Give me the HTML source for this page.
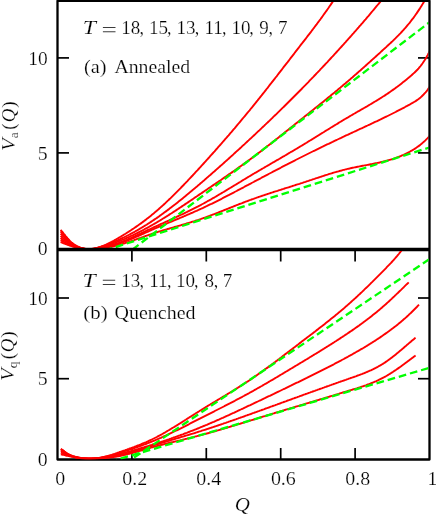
<!DOCTYPE html>
<html><head><meta charset="utf-8"><title>V(Q)</title>
<style>html,body{margin:0;padding:0;background:#fff}svg{display:block}text{font-family:"Liberation Serif",serif;fill:#000;stroke:#fff;stroke-width:0.2px}</style></head><body>
<svg width="436" height="515" viewBox="0 0 436 515">
<rect width="436" height="515" fill="#fff"/>
<defs>
<clipPath id="ct"><rect x="58.5" y="1.9" width="370.0" height="247.6"/></clipPath>
<clipPath id="cb"><rect x="58.5" y="250.9" width="370.0" height="208.4"/></clipPath>
</defs>
<g stroke="#000" stroke-width="1.7" fill="none">
<path d="M57.5,152.9 h11.5"/>
<path d="M429.5,152.9 h-11.5"/>
<path d="M57.5,57.9 h11.5"/>
<path d="M429.5,57.9 h-11.5"/>
</g>
<g fill="none" stroke="#f00" stroke-width="1.9" stroke-linejoin="round" clip-path="url(#ct)">
<path d="M60.6,229.8 L61.6,231.0 L62.6,232.2 L63.6,233.5 L64.6,234.7 L65.6,236.0 L66.6,237.2 L67.6,238.4 L68.6,239.5 L69.6,240.6 L70.6,241.6 L71.6,242.5 L72.6,243.3 L73.6,244.1 L74.6,244.8 L75.6,245.4 L76.6,246.0 L77.6,246.5 L78.6,246.9 L79.6,247.3 L80.6,247.7 L81.6,248.0 L82.6,248.3 L83.6,248.5 L84.6,248.7 L85.6,248.9 L86.6,249.0 L87.6,249.1 L88.6,249.1 L89.6,249.1 L90.6,249.1 L91.6,249.0 L92.6,248.9 L93.6,248.7 L94.6,248.5 L95.6,248.3 L96.6,248.1 L97.6,247.8 L98.6,247.5 L99.6,247.2 L100.6,246.8 L101.6,246.5 L102.6,246.1 L103.6,245.7 L104.6,245.3 L105.6,244.8 L106.6,244.4 L107.6,243.9 L108.6,243.4 L109.6,242.9 L110.6,242.4 L111.6,241.9 L112.6,241.3 L113.6,240.8 L114.6,240.2 L115.6,239.7 L116.6,239.1 L117.6,238.5 L118.6,237.9 L119.6,237.3 L120.6,236.7 L121.6,236.1 L122.6,235.5 L123.6,234.9 L124.6,234.3 L125.6,233.7 L126.6,233.0 L127.6,232.4 L128.6,231.8 L129.6,231.1 L130.6,230.5 L131.6,229.8 L132.6,229.1 L133.6,228.5 L134.6,227.8 L135.6,227.1 L136.6,226.4 L137.6,225.7 L138.6,225.0 L139.6,224.3 L140.6,223.6 L141.6,222.9 L142.6,222.1 L143.6,221.4 L144.6,220.6 L145.6,219.9 L146.6,219.1 L147.6,218.3 L148.6,217.6 L149.6,216.8 L150.6,216.0 L151.6,215.1 L152.6,214.3 L153.6,213.5 L154.6,212.6 L155.6,211.8 L156.6,210.9 L157.6,210.1 L158.6,209.2 L159.6,208.3 L160.6,207.4 L161.6,206.5 L162.6,205.6 L163.6,204.7 L164.6,203.8 L165.6,202.8 L166.6,201.9 L167.6,200.9 L168.6,200.0 L169.6,199.0 L170.6,198.1 L171.6,197.1 L172.6,196.1 L173.6,195.1 L174.6,194.1 L175.6,193.1 L176.6,192.1 L177.6,191.1 L178.6,190.1 L179.6,189.1 L180.6,188.1 L181.6,187.0 L182.6,186.0 L183.6,185.0 L184.6,183.9 L185.6,182.9 L186.6,181.8 L187.6,180.8 L188.6,179.7 L189.6,178.7 L190.6,177.6 L191.6,176.5 L192.6,175.5 L193.6,174.4 L194.6,173.3 L195.6,172.2 L196.6,171.1 L197.6,170.1 L198.6,169.0 L199.6,167.9 L200.6,166.8 L201.6,165.7 L202.6,164.6 L203.6,163.5 L204.6,162.4 L205.6,161.3 L206.6,160.2 L207.6,159.1 L208.6,158.0 L209.6,156.9 L210.6,155.7 L211.6,154.6 L212.6,153.5 L213.6,152.4 L214.6,151.3 L215.6,150.1 L216.6,149.0 L217.6,147.9 L218.6,146.7 L219.6,145.6 L220.6,144.5 L221.6,143.3 L222.6,142.2 L223.6,141.0 L224.6,139.9 L225.6,138.7 L226.6,137.6 L227.6,136.4 L228.6,135.3 L229.6,134.1 L230.6,132.9 L231.6,131.8 L232.6,130.6 L233.6,129.4 L234.6,128.3 L235.6,127.1 L236.6,125.9 L237.6,124.7 L238.6,123.5 L239.6,122.3 L240.6,121.1 L241.6,119.9 L242.6,118.7 L243.6,117.5 L244.6,116.3 L245.6,115.1 L246.6,113.9 L247.6,112.7 L248.6,111.5 L249.6,110.3 L250.6,109.0 L251.6,107.8 L252.6,106.6 L253.6,105.3 L254.6,104.1 L255.6,102.9 L256.6,101.6 L257.6,100.4 L258.6,99.1 L259.6,97.9 L260.6,96.6 L261.6,95.4 L262.6,94.1 L263.6,92.8 L264.6,91.6 L265.6,90.3 L266.6,89.0 L267.6,87.8 L268.6,86.5 L269.6,85.2 L270.6,83.9 L271.6,82.7 L272.6,81.4 L273.6,80.1 L274.6,78.8 L275.6,77.5 L276.6,76.3 L277.6,75.0 L278.6,73.7 L279.6,72.4 L280.6,71.1 L281.6,69.8 L282.6,68.5 L283.6,67.2 L284.6,65.9 L285.6,64.6 L286.6,63.3 L287.6,62.1 L288.6,60.8 L289.6,59.5 L290.6,58.2 L291.6,56.9 L292.6,55.6 L293.6,54.3 L294.6,53.0 L295.6,51.7 L296.6,50.4 L297.6,49.1 L298.6,47.8 L299.6,46.5 L300.6,45.2 L301.6,43.9 L302.6,42.7 L303.6,41.4 L304.6,40.1 L305.6,38.8 L306.6,37.5 L307.6,36.2 L308.6,34.9 L309.6,33.6 L310.6,32.3 L311.6,31.0 L312.6,29.7 L313.6,28.3 L314.6,27.0 L315.6,25.7 L316.6,24.4 L317.6,23.0 L318.6,21.7 L319.6,20.3 L320.6,19.0 L321.6,17.6 L322.6,16.2 L323.6,14.8 L324.6,13.4 L325.6,12.0 L326.6,10.6 L327.6,9.2 L328.6,7.8 L329.6,6.3 L330.6,4.9 L331.6,3.4 L332.6,1.9 L333.6,0.4 L334.6,-1.1 L335.6,-2.6 L336.0,-3.2"/>
<path d="M60.6,231.4 L61.6,232.6 L62.6,233.8 L63.6,234.9 L64.6,236.0 L65.6,237.0 L66.6,238.1 L67.6,239.2 L68.6,240.2 L69.6,241.2 L70.6,242.2 L71.6,243.0 L72.6,243.8 L73.6,244.5 L74.6,245.2 L75.6,245.7 L76.6,246.2 L77.6,246.7 L78.6,247.1 L79.6,247.5 L80.6,247.8 L81.6,248.1 L82.6,248.4 L83.6,248.6 L84.6,248.8 L85.6,249.0 L86.6,249.1 L87.6,249.1 L88.6,249.2 L89.6,249.1 L90.6,249.1 L91.6,249.0 L92.6,248.8 L93.6,248.6 L94.6,248.4 L95.6,248.2 L96.6,247.9 L97.6,247.7 L98.6,247.4 L99.6,247.1 L100.6,246.8 L101.6,246.5 L102.6,246.1 L103.6,245.8 L104.6,245.5 L105.6,245.1 L106.6,244.7 L107.6,244.4 L108.6,244.0 L109.6,243.6 L110.6,243.2 L111.6,242.8 L112.6,242.4 L113.6,242.0 L114.6,241.6 L115.6,241.2 L116.6,240.7 L117.6,240.3 L118.6,239.8 L119.6,239.4 L120.6,238.9 L121.6,238.4 L122.6,238.0 L123.6,237.5 L124.6,237.0 L125.6,236.5 L126.6,236.0 L127.6,235.5 L128.6,235.0 L129.6,234.5 L130.6,233.9 L131.6,233.4 L132.6,232.9 L133.6,232.3 L134.6,231.8 L135.6,231.2 L136.6,230.7 L137.6,230.1 L138.6,229.5 L139.6,228.9 L140.6,228.3 L141.6,227.7 L142.6,227.1 L143.6,226.5 L144.6,225.9 L145.6,225.3 L146.6,224.7 L147.6,224.0 L148.6,223.4 L149.6,222.8 L150.6,222.1 L151.6,221.4 L152.6,220.8 L153.6,220.1 L154.6,219.4 L155.6,218.7 L156.6,218.1 L157.6,217.4 L158.6,216.7 L159.6,215.9 L160.6,215.2 L161.6,214.5 L162.6,213.8 L163.6,213.1 L164.6,212.3 L165.6,211.6 L166.6,210.9 L167.6,210.1 L168.6,209.4 L169.6,208.6 L170.6,207.8 L171.6,207.1 L172.6,206.3 L173.6,205.5 L174.6,204.7 L175.6,204.0 L176.6,203.2 L177.6,202.4 L178.6,201.6 L179.6,200.8 L180.6,200.0 L181.6,199.2 L182.6,198.4 L183.6,197.6 L184.6,196.7 L185.6,195.9 L186.6,195.1 L187.6,194.3 L188.6,193.4 L189.6,192.6 L190.6,191.8 L191.6,190.9 L192.6,190.1 L193.6,189.3 L194.6,188.4 L195.6,187.6 L196.6,186.7 L197.6,185.9 L198.6,185.0 L199.6,184.2 L200.6,183.3 L201.6,182.5 L202.6,181.6 L203.6,180.7 L204.6,179.9 L205.6,179.0 L206.6,178.1 L207.6,177.3 L208.6,176.4 L209.6,175.5 L210.6,174.7 L211.6,173.8 L212.6,172.9 L213.6,172.0 L214.6,171.2 L215.6,170.3 L216.6,169.4 L217.6,168.5 L218.6,167.6 L219.6,166.7 L220.6,165.8 L221.6,165.0 L222.6,164.1 L223.6,163.2 L224.6,162.3 L225.6,161.4 L226.6,160.5 L227.6,159.6 L228.6,158.7 L229.6,157.8 L230.6,156.9 L231.6,156.0 L232.6,155.1 L233.6,154.2 L234.6,153.2 L235.6,152.3 L236.6,151.4 L237.6,150.5 L238.6,149.6 L239.6,148.7 L240.6,147.8 L241.6,146.8 L242.6,145.9 L243.6,145.0 L244.6,144.1 L245.6,143.1 L246.6,142.2 L247.6,141.3 L248.6,140.4 L249.6,139.4 L250.6,138.5 L251.6,137.6 L252.6,136.6 L253.6,135.7 L254.6,134.8 L255.6,133.8 L256.6,132.9 L257.6,131.9 L258.6,131.0 L259.6,130.1 L260.6,129.1 L261.6,128.2 L262.6,127.2 L263.6,126.3 L264.6,125.3 L265.6,124.4 L266.6,123.4 L267.6,122.5 L268.6,121.5 L269.6,120.6 L270.6,119.6 L271.6,118.6 L272.6,117.7 L273.6,116.7 L274.6,115.7 L275.6,114.8 L276.6,113.8 L277.6,112.8 L278.6,111.9 L279.6,110.9 L280.6,109.9 L281.6,108.9 L282.6,107.9 L283.6,107.0 L284.6,106.0 L285.6,105.0 L286.6,104.0 L287.6,103.0 L288.6,102.0 L289.6,101.0 L290.6,100.0 L291.6,99.0 L292.6,98.0 L293.6,97.0 L294.6,96.0 L295.6,95.0 L296.6,94.0 L297.6,93.0 L298.6,92.0 L299.6,91.0 L300.6,90.0 L301.6,89.0 L302.6,87.9 L303.6,86.9 L304.6,85.9 L305.6,84.9 L306.6,83.8 L307.6,82.8 L308.6,81.8 L309.6,80.7 L310.6,79.7 L311.6,78.7 L312.6,77.6 L313.6,76.6 L314.6,75.5 L315.6,74.5 L316.6,73.4 L317.6,72.4 L318.6,71.3 L319.6,70.3 L320.6,69.2 L321.6,68.2 L322.6,67.1 L323.6,66.0 L324.6,65.0 L325.6,63.9 L326.6,62.8 L327.6,61.8 L328.6,60.7 L329.6,59.6 L330.6,58.5 L331.6,57.4 L332.6,56.4 L333.6,55.3 L334.6,54.2 L335.6,53.1 L336.6,52.0 L337.6,50.9 L338.6,49.8 L339.6,48.7 L340.6,47.6 L341.6,46.5 L342.6,45.4 L343.6,44.3 L344.6,43.2 L345.6,42.1 L346.6,40.9 L347.6,39.8 L348.6,38.7 L349.6,37.6 L350.6,36.5 L351.6,35.3 L352.6,34.2 L353.6,33.1 L354.6,31.9 L355.6,30.8 L356.6,29.7 L357.6,28.5 L358.6,27.4 L359.6,26.2 L360.6,25.1 L361.6,23.9 L362.6,22.8 L363.6,21.6 L364.6,20.4 L365.6,19.3 L366.6,18.1 L367.6,16.9 L368.6,15.8 L369.6,14.6 L370.6,13.4 L371.6,12.2 L372.6,11.0 L373.6,9.8 L374.6,8.6 L375.6,7.4 L376.6,6.2 L377.6,5.0 L378.6,3.8 L379.6,2.6 L380.6,1.4 L381.6,0.2 L382.6,-1.0 L383.6,-2.3 L384.0,-2.8"/>
<path d="M60.6,233.6 L61.6,234.7 L62.6,235.7 L63.6,236.6 L64.6,237.6 L65.6,238.5 L66.6,239.4 L67.6,240.3 L68.6,241.2 L69.6,242.0 L70.6,242.9 L71.6,243.6 L72.6,244.3 L73.6,245.0 L74.6,245.5 L75.6,246.1 L76.6,246.5 L77.6,247.0 L78.6,247.3 L79.6,247.7 L80.6,248.0 L81.6,248.3 L82.6,248.5 L83.6,248.7 L84.6,248.9 L85.6,249.0 L86.6,249.1 L87.6,249.1 L88.6,249.2 L89.6,249.1 L90.6,249.1 L91.6,249.0 L92.6,248.9 L93.6,248.8 L94.6,248.6 L95.6,248.4 L96.6,248.2 L97.6,248.0 L98.6,247.8 L99.6,247.6 L100.6,247.3 L101.6,247.0 L102.6,246.8 L103.6,246.5 L104.6,246.2 L105.6,245.9 L106.6,245.6 L107.6,245.3 L108.6,245.0 L109.6,244.6 L110.6,244.3 L111.6,243.9 L112.6,243.6 L113.6,243.2 L114.6,242.9 L115.6,242.5 L116.6,242.1 L117.6,241.7 L118.6,241.3 L119.6,240.9 L120.6,240.5 L121.6,240.1 L122.6,239.7 L123.6,239.3 L124.6,238.9 L125.6,238.4 L126.6,238.0 L127.6,237.5 L128.6,237.1 L129.6,236.6 L130.6,236.2 L131.6,235.7 L132.6,235.3 L133.6,234.8 L134.6,234.3 L135.6,233.8 L136.6,233.3 L137.6,232.8 L138.6,232.3 L139.6,231.8 L140.6,231.3 L141.6,230.8 L142.6,230.3 L143.6,229.8 L144.6,229.2 L145.6,228.7 L146.6,228.2 L147.6,227.6 L148.6,227.1 L149.6,226.5 L150.6,225.9 L151.6,225.4 L152.6,224.8 L153.6,224.2 L154.6,223.6 L155.6,223.1 L156.6,222.5 L157.6,221.9 L158.6,221.3 L159.6,220.7 L160.6,220.1 L161.6,219.5 L162.6,218.8 L163.6,218.2 L164.6,217.6 L165.6,217.0 L166.6,216.4 L167.6,215.7 L168.6,215.1 L169.6,214.4 L170.6,213.8 L171.6,213.2 L172.6,212.5 L173.6,211.9 L174.6,211.2 L175.6,210.6 L176.6,209.9 L177.6,209.2 L178.6,208.6 L179.6,207.9 L180.6,207.3 L181.6,206.6 L182.6,205.9 L183.6,205.3 L184.6,204.6 L185.6,203.9 L186.6,203.2 L187.6,202.6 L188.6,201.9 L189.6,201.2 L190.6,200.5 L191.6,199.9 L192.6,199.2 L193.6,198.5 L194.6,197.8 L195.6,197.1 L196.6,196.5 L197.6,195.8 L198.6,195.1 L199.6,194.4 L200.6,193.7 L201.6,193.1 L202.6,192.4 L203.6,191.7 L204.6,191.0 L205.6,190.4 L206.6,189.7 L207.6,189.0 L208.6,188.3 L209.6,187.6 L210.6,187.0 L211.6,186.3 L212.6,185.6 L213.6,184.9 L214.6,184.2 L215.6,183.6 L216.6,182.9 L217.6,182.2 L218.6,181.5 L219.6,180.8 L220.6,180.2 L221.6,179.5 L222.6,178.8 L223.6,178.1 L224.6,177.4 L225.6,176.7 L226.6,176.0 L227.6,175.3 L228.6,174.6 L229.6,173.9 L230.6,173.3 L231.6,172.6 L232.6,171.9 L233.6,171.2 L234.6,170.5 L235.6,169.7 L236.6,169.0 L237.6,168.3 L238.6,167.6 L239.6,166.9 L240.6,166.2 L241.6,165.5 L242.6,164.8 L243.6,164.0 L244.6,163.3 L245.6,162.6 L246.6,161.9 L247.6,161.1 L248.6,160.4 L249.6,159.7 L250.6,158.9 L251.6,158.2 L252.6,157.4 L253.6,156.7 L254.6,156.0 L255.6,155.2 L256.6,154.4 L257.6,153.7 L258.6,152.9 L259.6,152.2 L260.6,151.4 L261.6,150.7 L262.6,149.9 L263.6,149.1 L264.6,148.3 L265.6,147.6 L266.6,146.8 L267.6,146.0 L268.6,145.3 L269.6,144.5 L270.6,143.7 L271.6,142.9 L272.6,142.1 L273.6,141.3 L274.6,140.6 L275.6,139.8 L276.6,139.0 L277.6,138.2 L278.6,137.4 L279.6,136.6 L280.6,135.8 L281.6,135.0 L282.6,134.2 L283.6,133.4 L284.6,132.6 L285.6,131.8 L286.6,131.0 L287.6,130.2 L288.6,129.4 L289.6,128.6 L290.6,127.8 L291.6,127.0 L292.6,126.2 L293.6,125.4 L294.6,124.6 L295.6,123.8 L296.6,123.0 L297.6,122.2 L298.6,121.4 L299.6,120.6 L300.6,119.8 L301.6,119.0 L302.6,118.2 L303.6,117.4 L304.6,116.6 L305.6,115.8 L306.6,115.0 L307.6,114.2 L308.6,113.4 L309.6,112.6 L310.6,111.8 L311.6,111.0 L312.6,110.2 L313.6,109.4 L314.6,108.6 L315.6,107.8 L316.6,107.0 L317.6,106.2 L318.6,105.4 L319.6,104.6 L320.6,103.8 L321.6,103.0 L322.6,102.2 L323.6,101.4 L324.6,100.6 L325.6,99.7 L326.6,98.9 L327.6,98.1 L328.6,97.3 L329.6,96.5 L330.6,95.7 L331.6,94.8 L332.6,94.0 L333.6,93.2 L334.6,92.4 L335.6,91.5 L336.6,90.7 L337.6,89.9 L338.6,89.0 L339.6,88.2 L340.6,87.4 L341.6,86.5 L342.6,85.7 L343.6,84.8 L344.6,84.0 L345.6,83.2 L346.6,82.3 L347.6,81.5 L348.6,80.6 L349.6,79.7 L350.6,78.9 L351.6,78.0 L352.6,77.2 L353.6,76.3 L354.6,75.4 L355.6,74.5 L356.6,73.7 L357.6,72.8 L358.6,71.9 L359.6,71.0 L360.6,70.2 L361.6,69.3 L362.6,68.4 L363.6,67.5 L364.6,66.6 L365.6,65.7 L366.6,64.8 L367.6,63.9 L368.6,63.0 L369.6,62.1 L370.6,61.2 L371.6,60.3 L372.6,59.4 L373.6,58.5 L374.6,57.6 L375.6,56.7 L376.6,55.8 L377.6,54.9 L378.6,54.0 L379.6,53.1 L380.6,52.2 L381.6,51.2 L382.6,50.3 L383.6,49.4 L384.6,48.5 L385.6,47.6 L386.6,46.7 L387.6,45.7 L388.6,44.8 L389.6,43.9 L390.6,43.0 L391.6,42.0 L392.6,41.1 L393.6,40.1 L394.6,39.1 L395.6,38.2 L396.6,37.2 L397.6,36.2 L398.6,35.2 L399.6,34.1 L400.6,33.1 L401.6,32.0 L402.6,30.9 L403.6,29.8 L404.6,28.7 L405.6,27.6 L406.6,26.4 L407.6,25.2 L408.6,24.0 L409.6,22.8 L410.6,21.5 L411.6,20.2 L412.6,18.9 L413.6,17.6 L414.6,16.2 L415.6,14.8 L416.6,13.4 L417.6,11.9 L418.6,10.4 L419.6,8.9 L420.6,7.3 L421.6,5.7 L422.6,4.1 L423.6,2.4 L424.6,0.7 L425.6,-1.0 L426.5,-2.6"/>
<path d="M60.6,235.8 L61.6,236.8 L62.6,237.7 L63.6,238.4 L64.6,239.2 L65.6,239.9 L66.6,240.6 L67.6,241.4 L68.6,242.1 L69.6,242.9 L70.6,243.6 L71.6,244.3 L72.6,244.9 L73.6,245.4 L74.6,245.9 L75.6,246.4 L76.6,246.8 L77.6,247.2 L78.6,247.5 L79.6,247.8 L80.6,248.1 L81.6,248.3 L82.6,248.5 L83.6,248.7 L84.6,248.9 L85.6,249.0 L86.6,249.1 L87.6,249.1 L88.6,249.2 L89.6,249.2 L90.6,249.1 L91.6,249.1 L92.6,249.0 L93.6,248.9 L94.6,248.8 L95.6,248.6 L96.6,248.5 L97.6,248.3 L98.6,248.1 L99.6,247.9 L100.6,247.7 L101.6,247.5 L102.6,247.3 L103.6,247.1 L104.6,246.8 L105.6,246.6 L106.6,246.4 L107.6,246.1 L108.6,245.8 L109.6,245.6 L110.6,245.3 L111.6,245.0 L112.6,244.7 L113.6,244.4 L114.6,244.1 L115.6,243.8 L116.6,243.5 L117.6,243.1 L118.6,242.8 L119.6,242.4 L120.6,242.1 L121.6,241.7 L122.6,241.3 L123.6,241.0 L124.6,240.6 L125.6,240.2 L126.6,239.8 L127.6,239.3 L128.6,238.9 L129.6,238.5 L130.6,238.1 L131.6,237.6 L132.6,237.2 L133.6,236.7 L134.6,236.3 L135.6,235.8 L136.6,235.4 L137.6,234.9 L138.6,234.4 L139.6,234.0 L140.6,233.5 L141.6,233.0 L142.6,232.6 L143.6,232.1 L144.6,231.6 L145.6,231.2 L146.6,230.7 L147.6,230.2 L148.6,229.7 L149.6,229.3 L150.6,228.8 L151.6,228.3 L152.6,227.9 L153.6,227.4 L154.6,226.9 L155.6,226.5 L156.6,226.0 L157.6,225.6 L158.6,225.1 L159.6,224.7 L160.6,224.2 L161.6,223.7 L162.6,223.3 L163.6,222.8 L164.6,222.4 L165.6,221.9 L166.6,221.5 L167.6,221.0 L168.6,220.6 L169.6,220.1 L170.6,219.6 L171.6,219.2 L172.6,218.7 L173.6,218.3 L174.6,217.8 L175.6,217.3 L176.6,216.9 L177.6,216.4 L178.6,216.0 L179.6,215.5 L180.6,215.0 L181.6,214.5 L182.6,214.1 L183.6,213.6 L184.6,213.1 L185.6,212.6 L186.6,212.2 L187.6,211.7 L188.6,211.2 L189.6,210.7 L190.6,210.2 L191.6,209.7 L192.6,209.2 L193.6,208.7 L194.6,208.2 L195.6,207.7 L196.6,207.2 L197.6,206.7 L198.6,206.1 L199.6,205.6 L200.6,205.1 L201.6,204.5 L202.6,204.0 L203.6,203.5 L204.6,202.9 L205.6,202.4 L206.6,201.8 L207.6,201.2 L208.6,200.7 L209.6,200.1 L210.6,199.6 L211.6,199.0 L212.6,198.4 L213.6,197.8 L214.6,197.3 L215.6,196.7 L216.6,196.1 L217.6,195.5 L218.6,194.9 L219.6,194.3 L220.6,193.7 L221.6,193.1 L222.6,192.5 L223.6,192.0 L224.6,191.4 L225.6,190.8 L226.6,190.1 L227.6,189.5 L228.6,188.9 L229.6,188.3 L230.6,187.7 L231.6,187.1 L232.6,186.5 L233.6,185.9 L234.6,185.3 L235.6,184.7 L236.6,184.1 L237.6,183.5 L238.6,182.9 L239.6,182.3 L240.6,181.7 L241.6,181.0 L242.6,180.4 L243.6,179.8 L244.6,179.2 L245.6,178.6 L246.6,178.0 L247.6,177.4 L248.6,176.8 L249.6,176.2 L250.6,175.6 L251.6,175.0 L252.6,174.4 L253.6,173.8 L254.6,173.2 L255.6,172.7 L256.6,172.1 L257.6,171.5 L258.6,170.9 L259.6,170.3 L260.6,169.7 L261.6,169.1 L262.6,168.5 L263.6,168.0 L264.6,167.4 L265.6,166.8 L266.6,166.2 L267.6,165.6 L268.6,165.1 L269.6,164.5 L270.6,163.9 L271.6,163.3 L272.6,162.7 L273.6,162.2 L274.6,161.6 L275.6,161.0 L276.6,160.4 L277.6,159.8 L278.6,159.3 L279.6,158.7 L280.6,158.1 L281.6,157.5 L282.6,156.9 L283.6,156.3 L284.6,155.8 L285.6,155.2 L286.6,154.6 L287.6,154.0 L288.6,153.4 L289.6,152.8 L290.6,152.2 L291.6,151.7 L292.6,151.1 L293.6,150.5 L294.6,149.9 L295.6,149.3 L296.6,148.7 L297.6,148.1 L298.6,147.5 L299.6,146.9 L300.6,146.3 L301.6,145.7 L302.6,145.1 L303.6,144.5 L304.6,143.9 L305.6,143.3 L306.6,142.7 L307.6,142.0 L308.6,141.4 L309.6,140.8 L310.6,140.2 L311.6,139.6 L312.6,139.0 L313.6,138.4 L314.6,137.7 L315.6,137.1 L316.6,136.5 L317.6,135.9 L318.6,135.3 L319.6,134.6 L320.6,134.0 L321.6,133.4 L322.6,132.8 L323.6,132.2 L324.6,131.5 L325.6,130.9 L326.6,130.3 L327.6,129.7 L328.6,129.1 L329.6,128.5 L330.6,127.8 L331.6,127.2 L332.6,126.6 L333.6,126.0 L334.6,125.4 L335.6,124.8 L336.6,124.2 L337.6,123.6 L338.6,122.9 L339.6,122.3 L340.6,121.7 L341.6,121.1 L342.6,120.5 L343.6,119.9 L344.6,119.3 L345.6,118.7 L346.6,118.1 L347.6,117.6 L348.6,117.0 L349.6,116.4 L350.6,115.8 L351.6,115.2 L352.6,114.6 L353.6,114.0 L354.6,113.5 L355.6,112.9 L356.6,112.3 L357.6,111.7 L358.6,111.2 L359.6,110.6 L360.6,110.0 L361.6,109.4 L362.6,108.9 L363.6,108.3 L364.6,107.7 L365.6,107.1 L366.6,106.6 L367.6,106.0 L368.6,105.4 L369.6,104.8 L370.6,104.2 L371.6,103.6 L372.6,103.0 L373.6,102.4 L374.6,101.8 L375.6,101.2 L376.6,100.6 L377.6,100.0 L378.6,99.4 L379.6,98.7 L380.6,98.1 L381.6,97.5 L382.6,96.8 L383.6,96.2 L384.6,95.6 L385.6,94.9 L386.6,94.2 L387.6,93.6 L388.6,92.9 L389.6,92.2 L390.6,91.5 L391.6,90.8 L392.6,90.1 L393.6,89.4 L394.6,88.7 L395.6,87.9 L396.6,87.2 L397.6,86.5 L398.6,85.7 L399.6,85.0 L400.6,84.2 L401.6,83.4 L402.6,82.6 L403.6,81.8 L404.6,81.1 L405.6,80.2 L406.6,79.4 L407.6,78.6 L408.6,77.8 L409.6,76.9 L410.6,76.1 L411.6,75.2 L412.6,74.3 L413.6,73.4 L414.6,72.5 L415.6,71.5 L416.6,70.5 L417.6,69.5 L418.6,68.4 L419.6,67.2 L420.6,66.0 L421.6,64.7 L422.6,63.3 L423.6,61.8 L424.6,60.3 L425.6,58.7 L426.6,56.9 L427.6,55.1 L428.6,53.2 L429.6,51.1 L430.0,50.3"/>
<path d="M60.6,238.0 L61.6,238.9 L62.6,239.6 L63.6,240.2 L64.6,240.8 L65.6,241.3 L66.6,241.9 L67.6,242.5 L68.6,243.1 L69.6,243.7 L70.6,244.3 L71.6,244.8 L72.6,245.4 L73.6,245.9 L74.6,246.3 L75.6,246.7 L76.6,247.1 L77.6,247.4 L78.6,247.7 L79.6,248.0 L80.6,248.3 L81.6,248.5 L82.6,248.6 L83.6,248.8 L84.6,248.9 L85.6,249.0 L86.6,249.1 L87.6,249.1 L88.6,249.2 L89.6,249.2 L90.6,249.1 L91.6,249.1 L92.6,249.0 L93.6,249.0 L94.6,248.9 L95.6,248.8 L96.6,248.6 L97.6,248.5 L98.6,248.4 L99.6,248.2 L100.6,248.0 L101.6,247.9 L102.6,247.7 L103.6,247.5 L104.6,247.3 L105.6,247.1 L106.6,246.9 L107.6,246.7 L108.6,246.5 L109.6,246.2 L110.6,246.0 L111.6,245.7 L112.6,245.5 L113.6,245.2 L114.6,244.9 L115.6,244.6 L116.6,244.3 L117.6,244.0 L118.6,243.7 L119.6,243.4 L120.6,243.1 L121.6,242.7 L122.6,242.4 L123.6,242.0 L124.6,241.6 L125.6,241.3 L126.6,240.9 L127.6,240.5 L128.6,240.1 L129.6,239.7 L130.6,239.3 L131.6,238.9 L132.6,238.4 L133.6,238.0 L134.6,237.6 L135.6,237.1 L136.6,236.7 L137.6,236.3 L138.6,235.8 L139.6,235.4 L140.6,234.9 L141.6,234.5 L142.6,234.0 L143.6,233.6 L144.6,233.1 L145.6,232.7 L146.6,232.2 L147.6,231.8 L148.6,231.3 L149.6,230.9 L150.6,230.4 L151.6,230.0 L152.6,229.5 L153.6,229.1 L154.6,228.7 L155.6,228.2 L156.6,227.8 L157.6,227.4 L158.6,227.0 L159.6,226.5 L160.6,226.1 L161.6,225.7 L162.6,225.3 L163.6,224.8 L164.6,224.4 L165.6,224.0 L166.6,223.6 L167.6,223.2 L168.6,222.7 L169.6,222.3 L170.6,221.9 L171.6,221.5 L172.6,221.1 L173.6,220.7 L174.6,220.2 L175.6,219.8 L176.6,219.4 L177.6,219.0 L178.6,218.6 L179.6,218.1 L180.6,217.7 L181.6,217.3 L182.6,216.9 L183.6,216.5 L184.6,216.0 L185.6,215.6 L186.6,215.2 L187.6,214.7 L188.6,214.3 L189.6,213.9 L190.6,213.4 L191.6,213.0 L192.6,212.6 L193.6,212.1 L194.6,211.7 L195.6,211.2 L196.6,210.8 L197.6,210.3 L198.6,209.9 L199.6,209.4 L200.6,209.0 L201.6,208.5 L202.6,208.1 L203.6,207.6 L204.6,207.1 L205.6,206.6 L206.6,206.2 L207.6,205.7 L208.6,205.2 L209.6,204.7 L210.6,204.2 L211.6,203.8 L212.6,203.3 L213.6,202.8 L214.6,202.3 L215.6,201.8 L216.6,201.3 L217.6,200.8 L218.6,200.3 L219.6,199.8 L220.6,199.3 L221.6,198.8 L222.6,198.2 L223.6,197.7 L224.6,197.2 L225.6,196.7 L226.6,196.2 L227.6,195.7 L228.6,195.2 L229.6,194.6 L230.6,194.1 L231.6,193.6 L232.6,193.1 L233.6,192.6 L234.6,192.0 L235.6,191.5 L236.6,191.0 L237.6,190.4 L238.6,189.9 L239.6,189.4 L240.6,188.9 L241.6,188.3 L242.6,187.8 L243.6,187.3 L244.6,186.7 L245.6,186.2 L246.6,185.7 L247.6,185.2 L248.6,184.6 L249.6,184.1 L250.6,183.6 L251.6,183.0 L252.6,182.5 L253.6,182.0 L254.6,181.4 L255.6,180.9 L256.6,180.4 L257.6,179.8 L258.6,179.3 L259.6,178.8 L260.6,178.3 L261.6,177.7 L262.6,177.2 L263.6,176.7 L264.6,176.1 L265.6,175.6 L266.6,175.1 L267.6,174.6 L268.6,174.0 L269.6,173.5 L270.6,173.0 L271.6,172.5 L272.6,171.9 L273.6,171.4 L274.6,170.9 L275.6,170.4 L276.6,169.8 L277.6,169.3 L278.6,168.8 L279.6,168.3 L280.6,167.8 L281.6,167.2 L282.6,166.7 L283.6,166.2 L284.6,165.7 L285.6,165.2 L286.6,164.7 L287.6,164.1 L288.6,163.6 L289.6,163.1 L290.6,162.6 L291.6,162.1 L292.6,161.6 L293.6,161.1 L294.6,160.6 L295.6,160.0 L296.6,159.5 L297.6,159.0 L298.6,158.5 L299.6,158.0 L300.6,157.5 L301.6,157.0 L302.6,156.5 L303.6,156.0 L304.6,155.5 L305.6,155.0 L306.6,154.5 L307.6,154.0 L308.6,153.5 L309.6,153.0 L310.6,152.5 L311.6,152.0 L312.6,151.5 L313.6,151.0 L314.6,150.6 L315.6,150.1 L316.6,149.6 L317.6,149.1 L318.6,148.6 L319.6,148.1 L320.6,147.6 L321.6,147.1 L322.6,146.7 L323.6,146.2 L324.6,145.7 L325.6,145.2 L326.6,144.7 L327.6,144.2 L328.6,143.8 L329.6,143.3 L330.6,142.8 L331.6,142.3 L332.6,141.9 L333.6,141.4 L334.6,140.9 L335.6,140.4 L336.6,140.0 L337.6,139.5 L338.6,139.0 L339.6,138.5 L340.6,138.1 L341.6,137.6 L342.6,137.1 L343.6,136.7 L344.6,136.2 L345.6,135.7 L346.6,135.2 L347.6,134.8 L348.6,134.3 L349.6,133.8 L350.6,133.4 L351.6,132.9 L352.6,132.5 L353.6,132.0 L354.6,131.5 L355.6,131.1 L356.6,130.6 L357.6,130.1 L358.6,129.7 L359.6,129.2 L360.6,128.7 L361.6,128.3 L362.6,127.8 L363.6,127.4 L364.6,126.9 L365.6,126.4 L366.6,126.0 L367.6,125.5 L368.6,125.0 L369.6,124.6 L370.6,124.1 L371.6,123.6 L372.6,123.2 L373.6,122.7 L374.6,122.2 L375.6,121.7 L376.6,121.3 L377.6,120.8 L378.6,120.3 L379.6,119.8 L380.6,119.4 L381.6,118.9 L382.6,118.4 L383.6,117.9 L384.6,117.4 L385.6,116.9 L386.6,116.5 L387.6,116.0 L388.6,115.5 L389.6,115.0 L390.6,114.5 L391.6,114.0 L392.6,113.5 L393.6,113.0 L394.6,112.5 L395.6,112.0 L396.6,111.4 L397.6,110.9 L398.6,110.4 L399.6,109.9 L400.6,109.4 L401.6,108.9 L402.6,108.3 L403.6,107.8 L404.6,107.3 L405.6,106.7 L406.6,106.2 L407.6,105.6 L408.6,105.1 L409.6,104.6 L410.6,104.0 L411.6,103.4 L412.6,102.9 L413.6,102.3 L414.6,101.7 L415.6,101.1 L416.6,100.4 L417.6,99.7 L418.6,99.0 L419.6,98.2 L420.6,97.4 L421.6,96.5 L422.6,95.5 L423.6,94.5 L424.6,93.4 L425.6,92.3 L426.6,91.1 L427.6,89.8 L428.6,88.3 L429.6,86.9 L430.0,86.2"/>
<path d="M60.6,240.2 L61.6,240.7 L62.6,241.2 L63.6,241.8 L64.6,242.3 L65.6,242.8 L66.6,243.3 L67.6,243.8 L68.6,244.3 L69.6,244.7 L70.6,245.1 L71.6,245.6 L72.6,246.0 L73.6,246.3 L74.6,246.7 L75.6,247.0 L76.6,247.4 L77.6,247.7 L78.6,247.9 L79.6,248.2 L80.6,248.4 L81.6,248.5 L82.6,248.7 L83.6,248.8 L84.6,248.9 L85.6,249.0 L86.6,249.1 L87.6,249.1 L88.6,249.2 L89.6,249.2 L90.6,249.2 L91.6,249.2 L92.6,249.1 L93.6,249.1 L94.6,249.0 L95.6,249.0 L96.6,248.9 L97.6,248.8 L98.6,248.7 L99.6,248.6 L100.6,248.5 L101.6,248.4 L102.6,248.2 L103.6,248.1 L104.6,248.0 L105.6,247.8 L106.6,247.6 L107.6,247.5 L108.6,247.3 L109.6,247.1 L110.6,246.9 L111.6,246.7 L112.6,246.5 L113.6,246.2 L114.6,246.0 L115.6,245.8 L116.6,245.5 L117.6,245.3 L118.6,245.0 L119.6,244.7 L120.6,244.4 L121.6,244.2 L122.6,243.9 L123.6,243.6 L124.6,243.3 L125.6,242.9 L126.6,242.6 L127.6,242.3 L128.6,242.0 L129.6,241.6 L130.6,241.3 L131.6,241.0 L132.6,240.6 L133.6,240.3 L134.6,239.9 L135.6,239.6 L136.6,239.2 L137.6,238.8 L138.6,238.5 L139.6,238.1 L140.6,237.8 L141.6,237.4 L142.6,237.1 L143.6,236.7 L144.6,236.4 L145.6,236.0 L146.6,235.7 L147.6,235.3 L148.6,235.0 L149.6,234.6 L150.6,234.3 L151.6,234.0 L152.6,233.6 L153.6,233.3 L154.6,233.0 L155.6,232.7 L156.6,232.4 L157.6,232.0 L158.6,231.7 L159.6,231.4 L160.6,231.1 L161.6,230.8 L162.6,230.5 L163.6,230.2 L164.6,229.9 L165.6,229.6 L166.6,229.3 L167.6,229.0 L168.6,228.8 L169.6,228.5 L170.6,228.2 L171.6,227.9 L172.6,227.6 L173.6,227.3 L174.6,227.0 L175.6,226.7 L176.6,226.5 L177.6,226.2 L178.6,225.9 L179.6,225.6 L180.6,225.3 L181.6,225.0 L182.6,224.7 L183.6,224.4 L184.6,224.1 L185.6,223.8 L186.6,223.5 L187.6,223.2 L188.6,222.9 L189.6,222.6 L190.6,222.3 L191.6,222.0 L192.6,221.7 L193.6,221.4 L194.6,221.1 L195.6,220.7 L196.6,220.4 L197.6,220.1 L198.6,219.8 L199.6,219.4 L200.6,219.1 L201.6,218.7 L202.6,218.4 L203.6,218.0 L204.6,217.7 L205.6,217.3 L206.6,217.0 L207.6,216.6 L208.6,216.2 L209.6,215.9 L210.6,215.5 L211.6,215.1 L212.6,214.7 L213.6,214.3 L214.6,214.0 L215.6,213.6 L216.6,213.2 L217.6,212.8 L218.6,212.4 L219.6,212.0 L220.6,211.6 L221.6,211.2 L222.6,210.8 L223.6,210.4 L224.6,210.0 L225.6,209.6 L226.6,209.2 L227.6,208.8 L228.6,208.4 L229.6,208.0 L230.6,207.6 L231.6,207.2 L232.6,206.8 L233.6,206.4 L234.6,206.0 L235.6,205.6 L236.6,205.2 L237.6,204.8 L238.6,204.4 L239.6,204.0 L240.6,203.6 L241.6,203.3 L242.6,202.9 L243.6,202.5 L244.6,202.1 L245.6,201.7 L246.6,201.3 L247.6,201.0 L248.6,200.6 L249.6,200.2 L250.6,199.9 L251.6,199.5 L252.6,199.1 L253.6,198.8 L254.6,198.4 L255.6,198.1 L256.6,197.7 L257.6,197.4 L258.6,197.0 L259.6,196.7 L260.6,196.3 L261.6,196.0 L262.6,195.6 L263.6,195.3 L264.6,195.0 L265.6,194.6 L266.6,194.3 L267.6,194.0 L268.6,193.7 L269.6,193.3 L270.6,193.0 L271.6,192.7 L272.6,192.4 L273.6,192.0 L274.6,191.7 L275.6,191.4 L276.6,191.1 L277.6,190.8 L278.6,190.4 L279.6,190.1 L280.6,189.8 L281.6,189.5 L282.6,189.2 L283.6,188.9 L284.6,188.5 L285.6,188.2 L286.6,187.9 L287.6,187.6 L288.6,187.3 L289.6,187.0 L290.6,186.6 L291.6,186.3 L292.6,186.0 L293.6,185.7 L294.6,185.4 L295.6,185.0 L296.6,184.7 L297.6,184.4 L298.6,184.1 L299.6,183.8 L300.6,183.4 L301.6,183.1 L302.6,182.8 L303.6,182.4 L304.6,182.1 L305.6,181.8 L306.6,181.4 L307.6,181.1 L308.6,180.8 L309.6,180.4 L310.6,180.1 L311.6,179.8 L312.6,179.4 L313.6,179.1 L314.6,178.8 L315.6,178.4 L316.6,178.1 L317.6,177.8 L318.6,177.5 L319.6,177.1 L320.6,176.8 L321.6,176.5 L322.6,176.2 L323.6,175.8 L324.6,175.5 L325.6,175.2 L326.6,174.9 L327.6,174.6 L328.6,174.2 L329.6,173.9 L330.6,173.6 L331.6,173.3 L332.6,173.0 L333.6,172.7 L334.6,172.4 L335.6,172.1 L336.6,171.8 L337.6,171.6 L338.6,171.3 L339.6,171.0 L340.6,170.7 L341.6,170.5 L342.6,170.2 L343.6,169.9 L344.6,169.7 L345.6,169.4 L346.6,169.2 L347.6,168.9 L348.6,168.7 L349.6,168.5 L350.6,168.2 L351.6,168.0 L352.6,167.8 L353.6,167.6 L354.6,167.4 L355.6,167.2 L356.6,167.0 L357.6,166.8 L358.6,166.6 L359.6,166.4 L360.6,166.2 L361.6,166.0 L362.6,165.8 L363.6,165.6 L364.6,165.4 L365.6,165.3 L366.6,165.1 L367.6,164.9 L368.6,164.7 L369.6,164.5 L370.6,164.3 L371.6,164.1 L372.6,163.9 L373.6,163.7 L374.6,163.5 L375.6,163.3 L376.6,163.1 L377.6,162.9 L378.6,162.7 L379.6,162.5 L380.6,162.2 L381.6,162.0 L382.6,161.8 L383.6,161.5 L384.6,161.3 L385.6,161.0 L386.6,160.7 L387.6,160.5 L388.6,160.2 L389.6,159.9 L390.6,159.6 L391.6,159.3 L392.6,159.0 L393.6,158.7 L394.6,158.3 L395.6,158.0 L396.6,157.6 L397.6,157.2 L398.6,156.9 L399.6,156.5 L400.6,156.1 L401.6,155.6 L402.6,155.2 L403.6,154.8 L404.6,154.3 L405.6,153.8 L406.6,153.3 L407.6,152.8 L408.6,152.3 L409.6,151.8 L410.6,151.2 L411.6,150.7 L412.6,150.1 L413.6,149.5 L414.6,148.9 L415.6,148.2 L416.6,147.5 L417.6,146.8 L418.6,146.1 L419.6,145.4 L420.6,144.6 L421.6,143.8 L422.6,142.9 L423.6,142.0 L424.6,141.1 L425.6,140.2 L426.6,139.2 L427.6,138.2 L428.6,137.1 L429.6,136.0 L430.0,135.6"/>
<path d="M60.6,242.0 L61.6,242.4 L62.6,242.9 L63.6,243.3 L64.6,243.7 L65.6,244.1 L66.6,244.4 L67.6,244.8 L68.6,245.2 L69.6,245.5 L70.6,245.9 L71.6,246.2 L72.6,246.5 L73.6,246.8 L74.6,247.1 L75.6,247.3 L76.6,247.6 L77.6,247.8 L78.6,248.0 L79.6,248.2 L80.6,248.4 L81.6,248.6 L82.6,248.8 L83.6,248.9 L84.6,249.0 L85.6,249.1 L86.6,249.2 L87.6,249.2 L88.0,249.2"/>
</g>
<g fill="none" stroke="#0f0" stroke-width="2.3" stroke-dasharray="7.7 3.9" clip-path="url(#ct)">
<path d="M131.5,250.3 L430.0,21.9" stroke-dashoffset="-1.2"/>
<path d="M107.0,249.8 L430.0,147.3" stroke-dashoffset="2.45"/>
</g>
<path d="M57.5,0.9 H429.5 V459.5 H57.5 Z" fill="none" stroke="#000" stroke-width="2.3" stroke-linejoin="round"/>
<path d="M57.5,249.5 H429.5" stroke="#000" stroke-width="3.4" fill="none"/>
<g stroke="#000" stroke-width="1.7" fill="none">
<path d="M131.9,249.5 v12.0"/>
<path d="M131.9,459.5 v-11.5"/>
<path d="M206.3,249.5 v12.0"/>
<path d="M206.3,459.5 v-11.5"/>
<path d="M280.7,249.5 v12.0"/>
<path d="M280.7,459.5 v-11.5"/>
<path d="M355.1,249.5 v12.0"/>
<path d="M355.1,459.5 v-11.5"/>
<path d="M57.5,378.7 h11.5"/>
<path d="M429.5,378.7 h-11.5"/>
<path d="M57.5,298.0 h11.5"/>
<path d="M429.5,298.0 h-11.5"/>
</g>
<g fill="none" stroke="#f00" stroke-width="1.9" stroke-linejoin="round" clip-path="url(#cb)">
<path d="M60.8,448.9 L61.8,449.6 L62.8,450.3 L63.8,451.1 L64.8,451.9 L65.8,452.7 L66.8,453.3 L67.8,454.0 L68.8,454.5 L69.8,455.0 L70.8,455.4 L71.8,455.8 L72.8,456.2 L73.8,456.5 L74.8,456.8 L75.8,457.1 L76.8,457.3 L77.8,457.5 L78.8,457.7 L79.8,457.8 L80.8,458.0 L81.8,458.1 L82.8,458.2 L83.8,458.3 L84.8,458.3 L85.8,458.4 L86.8,458.4 L87.8,458.5 L88.8,458.5 L89.8,458.5 L90.8,458.5 L91.8,458.4 L92.8,458.4 L93.8,458.4 L94.8,458.3 L95.8,458.2 L96.8,458.1 L97.8,458.0 L98.8,457.9 L99.8,457.8 L100.8,457.6 L101.8,457.4 L102.8,457.2 L103.8,457.0 L104.8,456.8 L105.8,456.5 L106.8,456.3 L107.8,456.0 L108.8,455.7 L109.8,455.4 L110.8,455.1 L111.8,454.8 L112.8,454.4 L113.8,454.1 L114.8,453.8 L115.8,453.4 L116.8,453.1 L117.8,452.7 L118.8,452.4 L119.8,452.0 L120.8,451.7 L121.8,451.3 L122.8,451.0 L123.8,450.6 L124.8,450.3 L125.8,449.9 L126.8,449.6 L127.8,449.2 L128.8,448.9 L129.8,448.5 L130.8,448.2 L131.8,447.8 L132.8,447.4 L133.8,447.1 L134.8,446.7 L135.8,446.3 L136.8,445.9 L137.8,445.5 L138.8,445.2 L139.8,444.8 L140.8,444.4 L141.8,443.9 L142.8,443.5 L143.8,443.1 L144.8,442.7 L145.8,442.3 L146.8,441.8 L147.8,441.4 L148.8,440.9 L149.8,440.4 L150.8,440.0 L151.8,439.5 L152.8,439.0 L153.8,438.5 L154.8,438.0 L155.8,437.5 L156.8,437.0 L157.8,436.4 L158.8,435.9 L159.8,435.4 L160.8,434.8 L161.8,434.3 L162.8,433.7 L163.8,433.1 L164.8,432.6 L165.8,432.0 L166.8,431.4 L167.8,430.8 L168.8,430.2 L169.8,429.6 L170.8,429.0 L171.8,428.4 L172.8,427.8 L173.8,427.2 L174.8,426.6 L175.8,426.0 L176.8,425.4 L177.8,424.7 L178.8,424.1 L179.8,423.5 L180.8,422.9 L181.8,422.2 L182.8,421.6 L183.8,421.0 L184.8,420.3 L185.8,419.7 L186.8,419.0 L187.8,418.4 L188.8,417.8 L189.8,417.1 L190.8,416.5 L191.8,415.9 L192.8,415.2 L193.8,414.6 L194.8,414.0 L195.8,413.3 L196.8,412.7 L197.8,412.1 L198.8,411.5 L199.8,410.8 L200.8,410.2 L201.8,409.6 L202.8,409.0 L203.8,408.4 L204.8,407.7 L205.8,407.1 L206.8,406.5 L207.8,405.9 L208.8,405.3 L209.8,404.7 L210.8,404.1 L211.8,403.5 L212.8,402.9 L213.8,402.3 L214.8,401.7 L215.8,401.1 L216.8,400.5 L217.8,399.9 L218.8,399.3 L219.8,398.7 L220.8,398.1 L221.8,397.5 L222.8,396.9 L223.8,396.3 L224.8,395.7 L225.8,395.1 L226.8,394.5 L227.8,393.9 L228.8,393.3 L229.8,392.7 L230.8,392.1 L231.8,391.5 L232.8,390.9 L233.8,390.2 L234.8,389.6 L235.8,389.0 L236.8,388.4 L237.8,387.8 L238.8,387.1 L239.8,386.5 L240.8,385.9 L241.8,385.2 L242.8,384.6 L243.8,384.0 L244.8,383.3 L245.8,382.7 L246.8,382.0 L247.8,381.4 L248.8,380.7 L249.8,380.0 L250.8,379.4 L251.8,378.7 L252.8,378.0 L253.8,377.3 L254.8,376.6 L255.8,375.9 L256.8,375.2 L257.8,374.5 L258.8,373.8 L259.8,373.1 L260.8,372.4 L261.8,371.7 L262.8,371.0 L263.8,370.3 L264.8,369.5 L265.8,368.8 L266.8,368.1 L267.8,367.4 L268.8,366.6 L269.8,365.9 L270.8,365.2 L271.8,364.4 L272.8,363.7 L273.8,362.9 L274.8,362.2 L275.8,361.4 L276.8,360.7 L277.8,359.9 L278.8,359.2 L279.8,358.4 L280.8,357.7 L281.8,356.9 L282.8,356.1 L283.8,355.4 L284.8,354.6 L285.8,353.8 L286.8,353.1 L287.8,352.3 L288.8,351.6 L289.8,350.8 L290.8,350.0 L291.8,349.3 L292.8,348.5 L293.8,347.7 L294.8,347.0 L295.8,346.2 L296.8,345.4 L297.8,344.7 L298.8,343.9 L299.8,343.1 L300.8,342.4 L301.8,341.6 L302.8,340.8 L303.8,340.1 L304.8,339.3 L305.8,338.6 L306.8,337.8 L307.8,337.0 L308.8,336.3 L309.8,335.5 L310.8,334.7 L311.8,334.0 L312.8,333.2 L313.8,332.4 L314.8,331.7 L315.8,330.9 L316.8,330.1 L317.8,329.4 L318.8,328.6 L319.8,327.8 L320.8,327.0 L321.8,326.3 L322.8,325.5 L323.8,324.7 L324.8,323.9 L325.8,323.1 L326.8,322.3 L327.8,321.5 L328.8,320.7 L329.8,319.9 L330.8,319.1 L331.8,318.3 L332.8,317.5 L333.8,316.7 L334.8,315.9 L335.8,315.1 L336.8,314.3 L337.8,313.4 L338.8,312.6 L339.8,311.8 L340.8,310.9 L341.8,310.1 L342.8,309.2 L343.8,308.4 L344.8,307.5 L345.8,306.6 L346.8,305.8 L347.8,304.9 L348.8,304.0 L349.8,303.1 L350.8,302.2 L351.8,301.3 L352.8,300.4 L353.8,299.5 L354.8,298.6 L355.8,297.7 L356.8,296.8 L357.8,295.8 L358.8,294.9 L359.8,294.0 L360.8,293.0 L361.8,292.1 L362.8,291.1 L363.8,290.2 L364.8,289.2 L365.8,288.2 L366.8,287.3 L367.8,286.3 L368.8,285.3 L369.8,284.3 L370.8,283.3 L371.8,282.4 L372.8,281.4 L373.8,280.4 L374.8,279.4 L375.8,278.4 L376.8,277.4 L377.8,276.4 L378.8,275.4 L379.8,274.4 L380.8,273.3 L381.8,272.3 L382.8,271.3 L383.8,270.3 L384.8,269.3 L385.8,268.3 L386.8,267.2 L387.8,266.2 L388.8,265.2 L389.8,264.1 L390.8,263.1 L391.8,262.0 L392.8,260.9 L393.8,259.8 L394.8,258.7 L395.8,257.5 L396.8,256.4 L397.8,255.2 L398.8,254.0 L399.8,252.7 L400.8,251.4 L401.8,250.1 L402.8,248.8 L403.0,248.5"/>
<path d="M60.8,449.3 L61.8,449.8 L62.8,450.4 L63.8,451.1 L64.8,451.9 L65.8,452.6 L66.8,453.3 L67.8,453.9 L68.8,454.4 L69.8,454.9 L70.8,455.3 L71.8,455.7 L72.8,456.1 L73.8,456.4 L74.8,456.7 L75.8,457.0 L76.8,457.3 L77.8,457.5 L78.8,457.7 L79.8,457.9 L80.8,458.1 L81.8,458.2 L82.8,458.3 L83.8,458.4 L84.8,458.4 L85.8,458.5 L86.8,458.5 L87.8,458.5 L88.8,458.5 L89.8,458.5 L90.8,458.5 L91.8,458.5 L92.8,458.4 L93.8,458.4 L94.8,458.3 L95.8,458.2 L96.8,458.1 L97.8,458.0 L98.8,457.9 L99.8,457.8 L100.8,457.6 L101.8,457.4 L102.8,457.2 L103.8,457.1 L104.8,456.8 L105.8,456.6 L106.8,456.4 L107.8,456.2 L108.8,455.9 L109.8,455.7 L110.8,455.4 L111.8,455.1 L112.8,454.9 L113.8,454.6 L114.8,454.3 L115.8,454.0 L116.8,453.7 L117.8,453.4 L118.8,453.1 L119.8,452.8 L120.8,452.5 L121.8,452.2 L122.8,451.8 L123.8,451.5 L124.8,451.2 L125.8,450.9 L126.8,450.6 L127.8,450.3 L128.8,449.9 L129.8,449.6 L130.8,449.3 L131.8,449.0 L132.8,448.6 L133.8,448.3 L134.8,447.9 L135.8,447.6 L136.8,447.3 L137.8,446.9 L138.8,446.6 L139.8,446.2 L140.8,445.8 L141.8,445.5 L142.8,445.1 L143.8,444.7 L144.8,444.4 L145.8,444.0 L146.8,443.6 L147.8,443.2 L148.8,442.8 L149.8,442.4 L150.8,442.0 L151.8,441.6 L152.8,441.2 L153.8,440.8 L154.8,440.4 L155.8,440.0 L156.8,439.5 L157.8,439.1 L158.8,438.7 L159.8,438.2 L160.8,437.8 L161.8,437.3 L162.8,436.9 L163.8,436.4 L164.8,436.0 L165.8,435.5 L166.8,435.0 L167.8,434.6 L168.8,434.1 L169.8,433.6 L170.8,433.2 L171.8,432.7 L172.8,432.2 L173.8,431.7 L174.8,431.2 L175.8,430.7 L176.8,430.3 L177.8,429.8 L178.8,429.3 L179.8,428.8 L180.8,428.3 L181.8,427.8 L182.8,427.3 L183.8,426.8 L184.8,426.3 L185.8,425.8 L186.8,425.3 L187.8,424.8 L188.8,424.3 L189.8,423.7 L190.8,423.2 L191.8,422.7 L192.8,422.2 L193.8,421.7 L194.8,421.2 L195.8,420.7 L196.8,420.2 L197.8,419.7 L198.8,419.2 L199.8,418.7 L200.8,418.1 L201.8,417.6 L202.8,417.1 L203.8,416.6 L204.8,416.1 L205.8,415.6 L206.8,415.1 L207.8,414.6 L208.8,414.1 L209.8,413.6 L210.8,413.1 L211.8,412.6 L212.8,412.1 L213.8,411.6 L214.8,411.0 L215.8,410.5 L216.8,410.0 L217.8,409.5 L218.8,409.0 L219.8,408.5 L220.8,408.0 L221.8,407.5 L222.8,407.0 L223.8,406.5 L224.8,405.9 L225.8,405.4 L226.8,404.9 L227.8,404.4 L228.8,403.9 L229.8,403.4 L230.8,402.8 L231.8,402.3 L232.8,401.8 L233.8,401.3 L234.8,400.8 L235.8,400.2 L236.8,399.7 L237.8,399.2 L238.8,398.7 L239.8,398.1 L240.8,397.6 L241.8,397.1 L242.8,396.5 L243.8,396.0 L244.8,395.4 L245.8,394.9 L246.8,394.4 L247.8,393.8 L248.8,393.3 L249.8,392.7 L250.8,392.2 L251.8,391.6 L252.8,391.1 L253.8,390.5 L254.8,389.9 L255.8,389.4 L256.8,388.8 L257.8,388.2 L258.8,387.7 L259.8,387.1 L260.8,386.5 L261.8,386.0 L262.8,385.4 L263.8,384.8 L264.8,384.2 L265.8,383.7 L266.8,383.1 L267.8,382.5 L268.8,381.9 L269.8,381.3 L270.8,380.7 L271.8,380.2 L272.8,379.6 L273.8,379.0 L274.8,378.4 L275.8,377.8 L276.8,377.2 L277.8,376.6 L278.8,376.0 L279.8,375.4 L280.8,374.8 L281.8,374.2 L282.8,373.6 L283.8,373.0 L284.8,372.4 L285.8,371.8 L286.8,371.2 L287.8,370.6 L288.8,370.0 L289.8,369.4 L290.8,368.8 L291.8,368.2 L292.8,367.6 L293.8,367.0 L294.8,366.4 L295.8,365.8 L296.8,365.2 L297.8,364.6 L298.8,364.0 L299.8,363.4 L300.8,362.8 L301.8,362.2 L302.8,361.6 L303.8,361.0 L304.8,360.4 L305.8,359.8 L306.8,359.2 L307.8,358.6 L308.8,358.0 L309.8,357.3 L310.8,356.7 L311.8,356.1 L312.8,355.5 L313.8,354.9 L314.8,354.3 L315.8,353.7 L316.8,353.1 L317.8,352.5 L318.8,351.9 L319.8,351.2 L320.8,350.6 L321.8,350.0 L322.8,349.4 L323.8,348.8 L324.8,348.1 L325.8,347.5 L326.8,346.9 L327.8,346.3 L328.8,345.6 L329.8,345.0 L330.8,344.4 L331.8,343.7 L332.8,343.1 L333.8,342.5 L334.8,341.8 L335.8,341.2 L336.8,340.5 L337.8,339.9 L338.8,339.2 L339.8,338.6 L340.8,337.9 L341.8,337.3 L342.8,336.6 L343.8,336.0 L344.8,335.3 L345.8,334.6 L346.8,334.0 L347.8,333.3 L348.8,332.6 L349.8,331.9 L350.8,331.2 L351.8,330.6 L352.8,329.9 L353.8,329.2 L354.8,328.5 L355.8,327.8 L356.8,327.1 L357.8,326.4 L358.8,325.7 L359.8,324.9 L360.8,324.2 L361.8,323.5 L362.8,322.8 L363.8,322.0 L364.8,321.3 L365.8,320.5 L366.8,319.8 L367.8,319.0 L368.8,318.3 L369.8,317.5 L370.8,316.7 L371.8,315.9 L372.8,315.1 L373.8,314.3 L374.8,313.5 L375.8,312.7 L376.8,311.9 L377.8,311.1 L378.8,310.2 L379.8,309.4 L380.8,308.5 L381.8,307.7 L382.8,306.8 L383.8,305.9 L384.8,305.1 L385.8,304.2 L386.8,303.3 L387.8,302.4 L388.8,301.5 L389.8,300.5 L390.8,299.6 L391.8,298.7 L392.8,297.7 L393.8,296.8 L394.8,295.8 L395.8,294.9 L396.8,293.9 L397.8,293.0 L398.8,292.0 L399.8,291.0 L400.8,290.1 L401.8,289.1 L402.8,288.1 L403.8,287.2 L404.8,286.2 L405.8,285.2 L406.8,284.2 L407.8,283.3 L408.7,282.4"/>
<path d="M60.8,451.0 L61.8,451.3 L62.8,451.8 L63.8,452.3 L64.8,452.9 L65.8,453.4 L66.8,454.0 L67.8,454.5 L68.8,454.9 L69.8,455.3 L70.8,455.7 L71.8,456.0 L72.8,456.3 L73.8,456.6 L74.8,456.9 L75.8,457.2 L76.8,457.4 L77.8,457.6 L78.8,457.8 L79.8,458.0 L80.8,458.1 L81.8,458.2 L82.8,458.3 L83.8,458.4 L84.8,458.5 L85.8,458.5 L86.8,458.5 L87.8,458.6 L88.8,458.6 L89.8,458.6 L90.8,458.6 L91.8,458.6 L92.8,458.5 L93.8,458.5 L94.8,458.4 L95.8,458.4 L96.8,458.3 L97.8,458.2 L98.8,458.1 L99.8,458.0 L100.8,457.9 L101.8,457.8 L102.8,457.7 L103.8,457.5 L104.8,457.4 L105.8,457.2 L106.8,457.0 L107.8,456.8 L108.8,456.6 L109.8,456.4 L110.8,456.2 L111.8,456.0 L112.8,455.8 L113.8,455.5 L114.8,455.3 L115.8,455.0 L116.8,454.8 L117.8,454.6 L118.8,454.3 L119.8,454.0 L120.8,453.8 L121.8,453.5 L122.8,453.3 L123.8,453.0 L124.8,452.7 L125.8,452.5 L126.8,452.2 L127.8,451.9 L128.8,451.7 L129.8,451.4 L130.8,451.1 L131.8,450.8 L132.8,450.5 L133.8,450.3 L134.8,450.0 L135.8,449.7 L136.8,449.4 L137.8,449.1 L138.8,448.8 L139.8,448.5 L140.8,448.2 L141.8,447.9 L142.8,447.6 L143.8,447.3 L144.8,447.0 L145.8,446.7 L146.8,446.4 L147.8,446.1 L148.8,445.8 L149.8,445.5 L150.8,445.2 L151.8,444.9 L152.8,444.5 L153.8,444.2 L154.8,443.9 L155.8,443.6 L156.8,443.3 L157.8,442.9 L158.8,442.6 L159.8,442.3 L160.8,442.0 L161.8,441.6 L162.8,441.3 L163.8,441.0 L164.8,440.6 L165.8,440.3 L166.8,440.0 L167.8,439.6 L168.8,439.3 L169.8,438.9 L170.8,438.6 L171.8,438.2 L172.8,437.9 L173.8,437.5 L174.8,437.2 L175.8,436.8 L176.8,436.5 L177.8,436.1 L178.8,435.7 L179.8,435.4 L180.8,435.0 L181.8,434.6 L182.8,434.3 L183.8,433.9 L184.8,433.5 L185.8,433.1 L186.8,432.8 L187.8,432.4 L188.8,432.0 L189.8,431.6 L190.8,431.2 L191.8,430.8 L192.8,430.5 L193.8,430.1 L194.8,429.7 L195.8,429.3 L196.8,428.9 L197.8,428.5 L198.8,428.1 L199.8,427.7 L200.8,427.2 L201.8,426.8 L202.8,426.4 L203.8,426.0 L204.8,425.6 L205.8,425.2 L206.8,424.8 L207.8,424.3 L208.8,423.9 L209.8,423.5 L210.8,423.0 L211.8,422.6 L212.8,422.2 L213.8,421.8 L214.8,421.3 L215.8,420.9 L216.8,420.4 L217.8,420.0 L218.8,419.6 L219.8,419.1 L220.8,418.7 L221.8,418.2 L222.8,417.8 L223.8,417.3 L224.8,416.9 L225.8,416.4 L226.8,416.0 L227.8,415.5 L228.8,415.1 L229.8,414.6 L230.8,414.1 L231.8,413.7 L232.8,413.2 L233.8,412.8 L234.8,412.3 L235.8,411.8 L236.8,411.4 L237.8,410.9 L238.8,410.4 L239.8,410.0 L240.8,409.5 L241.8,409.0 L242.8,408.6 L243.8,408.1 L244.8,407.6 L245.8,407.2 L246.8,406.7 L247.8,406.2 L248.8,405.7 L249.8,405.3 L250.8,404.8 L251.8,404.3 L252.8,403.9 L253.8,403.4 L254.8,402.9 L255.8,402.4 L256.8,402.0 L257.8,401.5 L258.8,401.0 L259.8,400.5 L260.8,400.1 L261.8,399.6 L262.8,399.1 L263.8,398.6 L264.8,398.2 L265.8,397.7 L266.8,397.2 L267.8,396.7 L268.8,396.2 L269.8,395.8 L270.8,395.3 L271.8,394.8 L272.8,394.3 L273.8,393.9 L274.8,393.4 L275.8,392.9 L276.8,392.4 L277.8,391.9 L278.8,391.5 L279.8,391.0 L280.8,390.5 L281.8,390.0 L282.8,389.5 L283.8,389.0 L284.8,388.6 L285.8,388.1 L286.8,387.6 L287.8,387.1 L288.8,386.6 L289.8,386.1 L290.8,385.7 L291.8,385.2 L292.8,384.7 L293.8,384.2 L294.8,383.7 L295.8,383.2 L296.8,382.7 L297.8,382.3 L298.8,381.8 L299.8,381.3 L300.8,380.8 L301.8,380.3 L302.8,379.8 L303.8,379.3 L304.8,378.8 L305.8,378.3 L306.8,377.9 L307.8,377.4 L308.8,376.9 L309.8,376.4 L310.8,375.9 L311.8,375.4 L312.8,374.9 L313.8,374.4 L314.8,373.9 L315.8,373.4 L316.8,372.9 L317.8,372.4 L318.8,371.9 L319.8,371.4 L320.8,370.9 L321.8,370.4 L322.8,369.9 L323.8,369.4 L324.8,368.9 L325.8,368.4 L326.8,367.9 L327.8,367.4 L328.8,366.8 L329.8,366.3 L330.8,365.8 L331.8,365.3 L332.8,364.8 L333.8,364.3 L334.8,363.7 L335.8,363.2 L336.8,362.7 L337.8,362.2 L338.8,361.6 L339.8,361.1 L340.8,360.6 L341.8,360.0 L342.8,359.5 L343.8,359.0 L344.8,358.4 L345.8,357.9 L346.8,357.3 L347.8,356.8 L348.8,356.2 L349.8,355.7 L350.8,355.1 L351.8,354.6 L352.8,354.0 L353.8,353.4 L354.8,352.9 L355.8,352.3 L356.8,351.7 L357.8,351.2 L358.8,350.6 L359.8,350.0 L360.8,349.4 L361.8,348.8 L362.8,348.3 L363.8,347.7 L364.8,347.1 L365.8,346.5 L366.8,345.9 L367.8,345.2 L368.8,344.6 L369.8,344.0 L370.8,343.4 L371.8,342.8 L372.8,342.1 L373.8,341.5 L374.8,340.9 L375.8,340.2 L376.8,339.5 L377.8,338.9 L378.8,338.2 L379.8,337.6 L380.8,336.9 L381.8,336.2 L382.8,335.5 L383.8,334.8 L384.8,334.1 L385.8,333.4 L386.8,332.7 L387.8,332.0 L388.8,331.3 L389.8,330.5 L390.8,329.8 L391.8,329.0 L392.8,328.3 L393.8,327.5 L394.8,326.7 L395.8,326.0 L396.8,325.2 L397.8,324.4 L398.8,323.5 L399.8,322.7 L400.8,321.9 L401.8,321.1 L402.8,320.2 L403.8,319.3 L404.8,318.5 L405.8,317.6 L406.8,316.7 L407.8,315.8 L408.8,314.8 L409.8,313.9 L410.8,313.0 L411.8,312.0 L412.8,311.0 L413.8,310.0 L414.8,309.0 L415.8,308.0 L416.8,307.0 L417.8,305.9 L418.8,304.9 L419.0,304.7"/>
<path d="M60.8,452.7 L61.8,452.9 L62.8,453.3 L63.8,453.6 L64.8,454.0 L65.8,454.4 L66.8,454.8 L67.8,455.2 L68.8,455.5 L69.8,455.8 L70.8,456.1 L71.8,456.4 L72.8,456.6 L73.8,456.9 L74.8,457.1 L75.8,457.3 L76.8,457.5 L77.8,457.7 L78.8,457.9 L79.8,458.0 L80.8,458.2 L81.8,458.3 L82.8,458.3 L83.8,458.4 L84.8,458.5 L85.8,458.5 L86.8,458.5 L87.8,458.6 L88.8,458.6 L89.8,458.6 L90.8,458.6 L91.8,458.6 L92.8,458.5 L93.8,458.5 L94.8,458.5 L95.8,458.4 L96.8,458.4 L97.8,458.3 L98.8,458.3 L99.8,458.2 L100.8,458.1 L101.8,458.0 L102.8,457.9 L103.8,457.8 L104.8,457.7 L105.8,457.6 L106.8,457.4 L107.8,457.3 L108.8,457.1 L109.8,457.0 L110.8,456.8 L111.8,456.7 L112.8,456.5 L113.8,456.3 L114.8,456.1 L115.8,455.9 L116.8,455.7 L117.8,455.5 L118.8,455.3 L119.8,455.1 L120.8,454.8 L121.8,454.6 L122.8,454.4 L123.8,454.1 L124.8,453.9 L125.8,453.6 L126.8,453.4 L127.8,453.1 L128.8,452.8 L129.8,452.6 L130.8,452.3 L131.8,452.0 L132.8,451.7 L133.8,451.4 L134.8,451.1 L135.8,450.8 L136.8,450.5 L137.8,450.2 L138.8,449.9 L139.8,449.6 L140.8,449.3 L141.8,449.0 L142.8,448.7 L143.8,448.4 L144.8,448.1 L145.8,447.8 L146.8,447.5 L147.8,447.2 L148.8,446.9 L149.8,446.6 L150.8,446.3 L151.8,446.0 L152.8,445.6 L153.8,445.3 L154.8,445.0 L155.8,444.7 L156.8,444.4 L157.8,444.1 L158.8,443.8 L159.8,443.5 L160.8,443.2 L161.8,442.9 L162.8,442.6 L163.8,442.3 L164.8,442.0 L165.8,441.7 L166.8,441.4 L167.8,441.1 L168.8,440.8 L169.8,440.5 L170.8,440.2 L171.8,439.9 L172.8,439.6 L173.8,439.3 L174.8,439.0 L175.8,438.7 L176.8,438.4 L177.8,438.1 L178.8,437.8 L179.8,437.5 L180.8,437.2 L181.8,436.9 L182.8,436.6 L183.8,436.3 L184.8,436.0 L185.8,435.7 L186.8,435.4 L187.8,435.1 L188.8,434.8 L189.8,434.5 L190.8,434.2 L191.8,433.9 L192.8,433.6 L193.8,433.3 L194.8,433.0 L195.8,432.6 L196.8,432.3 L197.8,432.0 L198.8,431.7 L199.8,431.4 L200.8,431.1 L201.8,430.7 L202.8,430.4 L203.8,430.1 L204.8,429.8 L205.8,429.5 L206.8,429.1 L207.8,428.8 L208.8,428.5 L209.8,428.1 L210.8,427.8 L211.8,427.5 L212.8,427.2 L213.8,426.8 L214.8,426.5 L215.8,426.2 L216.8,425.8 L217.8,425.5 L218.8,425.1 L219.8,424.8 L220.8,424.5 L221.8,424.1 L222.8,423.8 L223.8,423.4 L224.8,423.1 L225.8,422.8 L226.8,422.4 L227.8,422.1 L228.8,421.7 L229.8,421.4 L230.8,421.0 L231.8,420.7 L232.8,420.3 L233.8,420.0 L234.8,419.6 L235.8,419.3 L236.8,418.9 L237.8,418.6 L238.8,418.2 L239.8,417.9 L240.8,417.5 L241.8,417.2 L242.8,416.8 L243.8,416.5 L244.8,416.1 L245.8,415.7 L246.8,415.4 L247.8,415.0 L248.8,414.7 L249.8,414.3 L250.8,414.0 L251.8,413.6 L252.8,413.2 L253.8,412.9 L254.8,412.5 L255.8,412.2 L256.8,411.8 L257.8,411.4 L258.8,411.1 L259.8,410.7 L260.8,410.4 L261.8,410.0 L262.8,409.6 L263.8,409.3 L264.8,408.9 L265.8,408.5 L266.8,408.2 L267.8,407.8 L268.8,407.5 L269.8,407.1 L270.8,406.7 L271.8,406.4 L272.8,406.0 L273.8,405.6 L274.8,405.3 L275.8,404.9 L276.8,404.6 L277.8,404.2 L278.8,403.8 L279.8,403.5 L280.8,403.1 L281.8,402.7 L282.8,402.4 L283.8,402.0 L284.8,401.6 L285.8,401.3 L286.8,400.9 L287.8,400.5 L288.8,400.2 L289.8,399.8 L290.8,399.5 L291.8,399.1 L292.8,398.7 L293.8,398.4 L294.8,398.0 L295.8,397.6 L296.8,397.3 L297.8,396.9 L298.8,396.6 L299.8,396.2 L300.8,395.8 L301.8,395.5 L302.8,395.1 L303.8,394.7 L304.8,394.4 L305.8,394.0 L306.8,393.7 L307.8,393.3 L308.8,392.9 L309.8,392.6 L310.8,392.2 L311.8,391.9 L312.8,391.5 L313.8,391.1 L314.8,390.8 L315.8,390.4 L316.8,390.1 L317.8,389.7 L318.8,389.4 L319.8,389.0 L320.8,388.6 L321.8,388.3 L322.8,387.9 L323.8,387.6 L324.8,387.2 L325.8,386.9 L326.8,386.5 L327.8,386.1 L328.8,385.8 L329.8,385.4 L330.8,385.1 L331.8,384.7 L332.8,384.4 L333.8,384.0 L334.8,383.7 L335.8,383.3 L336.8,382.9 L337.8,382.6 L338.8,382.2 L339.8,381.9 L340.8,381.5 L341.8,381.2 L342.8,380.8 L343.8,380.5 L344.8,380.1 L345.8,379.8 L346.8,379.4 L347.8,379.1 L348.8,378.7 L349.8,378.4 L350.8,378.0 L351.8,377.7 L352.8,377.3 L353.8,377.0 L354.8,376.6 L355.8,376.3 L356.8,375.9 L357.8,375.5 L358.8,375.2 L359.8,374.8 L360.8,374.4 L361.8,374.1 L362.8,373.7 L363.8,373.3 L364.8,372.9 L365.8,372.5 L366.8,372.0 L367.8,371.6 L368.8,371.2 L369.8,370.7 L370.8,370.3 L371.8,369.8 L372.8,369.4 L373.8,368.9 L374.8,368.4 L375.8,367.9 L376.8,367.3 L377.8,366.8 L378.8,366.2 L379.8,365.7 L380.8,365.1 L381.8,364.5 L382.8,363.9 L383.8,363.2 L384.8,362.6 L385.8,361.9 L386.8,361.2 L387.8,360.5 L388.8,359.8 L389.8,359.1 L390.8,358.3 L391.8,357.6 L392.8,356.8 L393.8,356.0 L394.8,355.2 L395.8,354.4 L396.8,353.6 L397.8,352.8 L398.8,351.9 L399.8,351.1 L400.8,350.3 L401.8,349.4 L402.8,348.6 L403.8,347.7 L404.8,346.8 L405.8,346.0 L406.8,345.1 L407.8,344.3 L408.8,343.4 L409.8,342.5 L410.8,341.7 L411.8,340.8 L412.8,340.0 L413.8,339.2 L414.8,338.3 L415.6,337.7"/>
<path d="M60.8,454.4 L61.8,454.5 L62.8,454.7 L63.8,454.9 L64.8,455.2 L65.8,455.5 L66.8,455.7 L67.8,455.9 L68.8,456.1 L69.8,456.3 L70.8,456.5 L71.8,456.7 L72.8,456.9 L73.8,457.1 L74.8,457.3 L75.8,457.5 L76.8,457.7 L77.8,457.9 L78.8,458.0 L79.8,458.1 L80.8,458.3 L81.8,458.4 L82.8,458.4 L83.8,458.5 L84.8,458.5 L85.8,458.6 L86.8,458.6 L87.8,458.6 L88.8,458.6 L89.8,458.6 L90.8,458.6 L91.8,458.6 L92.8,458.6 L93.8,458.6 L94.8,458.6 L95.8,458.6 L96.8,458.5 L97.8,458.5 L98.8,458.4 L99.8,458.4 L100.8,458.3 L101.8,458.3 L102.8,458.2 L103.8,458.1 L104.8,458.1 L105.8,458.0 L106.8,457.9 L107.8,457.8 L108.8,457.7 L109.8,457.6 L110.8,457.4 L111.8,457.3 L112.8,457.2 L113.8,457.0 L114.8,456.9 L115.8,456.7 L116.8,456.6 L117.8,456.4 L118.8,456.2 L119.8,456.0 L120.8,455.8 L121.8,455.6 L122.8,455.4 L123.8,455.2 L124.8,454.9 L125.8,454.7 L126.8,454.4 L127.8,454.2 L128.8,453.9 L129.8,453.7 L130.8,453.4 L131.8,453.2 L132.8,452.9 L133.8,452.6 L134.8,452.3 L135.8,452.0 L136.8,451.8 L137.8,451.5 L138.8,451.2 L139.8,450.9 L140.8,450.6 L141.8,450.3 L142.8,450.0 L143.8,449.7 L144.8,449.4 L145.8,449.1 L146.8,448.8 L147.8,448.6 L148.8,448.3 L149.8,448.0 L150.8,447.7 L151.8,447.4 L152.8,447.2 L153.8,446.9 L154.8,446.6 L155.8,446.3 L156.8,446.1 L157.8,445.8 L158.8,445.6 L159.8,445.3 L160.8,445.0 L161.8,444.8 L162.8,444.5 L163.8,444.3 L164.8,444.0 L165.8,443.8 L166.8,443.5 L167.8,443.3 L168.8,443.0 L169.8,442.8 L170.8,442.5 L171.8,442.3 L172.8,442.1 L173.8,441.8 L174.8,441.6 L175.8,441.3 L176.8,441.1 L177.8,440.8 L178.8,440.6 L179.8,440.4 L180.8,440.1 L181.8,439.9 L182.8,439.6 L183.8,439.4 L184.8,439.2 L185.8,438.9 L186.8,438.7 L187.8,438.4 L188.8,438.2 L189.8,437.9 L190.8,437.7 L191.8,437.4 L192.8,437.2 L193.8,436.9 L194.8,436.7 L195.8,436.4 L196.8,436.2 L197.8,435.9 L198.8,435.7 L199.8,435.4 L200.8,435.1 L201.8,434.9 L202.8,434.6 L203.8,434.3 L204.8,434.1 L205.8,433.8 L206.8,433.5 L207.8,433.3 L208.8,433.0 L209.8,432.7 L210.8,432.4 L211.8,432.1 L212.8,431.8 L213.8,431.6 L214.8,431.3 L215.8,431.0 L216.8,430.7 L217.8,430.4 L218.8,430.1 L219.8,429.8 L220.8,429.5 L221.8,429.2 L222.8,428.9 L223.8,428.6 L224.8,428.3 L225.8,428.1 L226.8,427.8 L227.8,427.4 L228.8,427.1 L229.8,426.8 L230.8,426.5 L231.8,426.2 L232.8,425.9 L233.8,425.6 L234.8,425.3 L235.8,425.0 L236.8,424.7 L237.8,424.4 L238.8,424.1 L239.8,423.8 L240.8,423.5 L241.8,423.2 L242.8,422.9 L243.8,422.6 L244.8,422.3 L245.8,421.9 L246.8,421.6 L247.8,421.3 L248.8,421.0 L249.8,420.7 L250.8,420.4 L251.8,420.1 L252.8,419.8 L253.8,419.5 L254.8,419.2 L255.8,418.9 L256.8,418.6 L257.8,418.2 L258.8,417.9 L259.8,417.6 L260.8,417.3 L261.8,417.0 L262.8,416.7 L263.8,416.4 L264.8,416.1 L265.8,415.8 L266.8,415.5 L267.8,415.2 L268.8,414.9 L269.8,414.6 L270.8,414.3 L271.8,414.0 L272.8,413.7 L273.8,413.4 L274.8,413.0 L275.8,412.7 L276.8,412.4 L277.8,412.1 L278.8,411.8 L279.8,411.5 L280.8,411.2 L281.8,410.9 L282.8,410.6 L283.8,410.3 L284.8,410.0 L285.8,409.7 L286.8,409.4 L287.8,409.1 L288.8,408.8 L289.8,408.5 L290.8,408.2 L291.8,407.9 L292.8,407.6 L293.8,407.3 L294.8,407.0 L295.8,406.7 L296.8,406.4 L297.8,406.1 L298.8,405.8 L299.8,405.5 L300.8,405.2 L301.8,404.9 L302.8,404.6 L303.8,404.3 L304.8,404.0 L305.8,403.7 L306.8,403.4 L307.8,403.1 L308.8,402.8 L309.8,402.5 L310.8,402.2 L311.8,401.9 L312.8,401.6 L313.8,401.3 L314.8,401.0 L315.8,400.7 L316.8,400.4 L317.8,400.1 L318.8,399.8 L319.8,399.5 L320.8,399.2 L321.8,398.9 L322.8,398.6 L323.8,398.3 L324.8,398.0 L325.8,397.7 L326.8,397.4 L327.8,397.1 L328.8,396.8 L329.8,396.5 L330.8,396.2 L331.8,395.9 L332.8,395.6 L333.8,395.3 L334.8,395.0 L335.8,394.7 L336.8,394.4 L337.8,394.1 L338.8,393.8 L339.8,393.4 L340.8,393.1 L341.8,392.8 L342.8,392.5 L343.8,392.2 L344.8,391.9 L345.8,391.6 L346.8,391.3 L347.8,391.0 L348.8,390.7 L349.8,390.4 L350.8,390.1 L351.8,389.8 L352.8,389.5 L353.8,389.2 L354.8,388.9 L355.8,388.6 L356.8,388.3 L357.8,387.9 L358.8,387.6 L359.8,387.3 L360.8,387.0 L361.8,386.6 L362.8,386.3 L363.8,386.0 L364.8,385.6 L365.8,385.3 L366.8,384.9 L367.8,384.5 L368.8,384.2 L369.8,383.8 L370.8,383.4 L371.8,383.0 L372.8,382.6 L373.8,382.2 L374.8,381.7 L375.8,381.3 L376.8,380.8 L377.8,380.4 L378.8,379.9 L379.8,379.4 L380.8,378.9 L381.8,378.4 L382.8,377.9 L383.8,377.4 L384.8,376.8 L385.8,376.3 L386.8,375.7 L387.8,375.1 L388.8,374.5 L389.8,373.9 L390.8,373.2 L391.8,372.6 L392.8,372.0 L393.8,371.3 L394.8,370.6 L395.8,370.0 L396.8,369.3 L397.8,368.6 L398.8,367.9 L399.8,367.2 L400.8,366.5 L401.8,365.7 L402.8,365.0 L403.8,364.3 L404.8,363.5 L405.8,362.8 L406.8,362.1 L407.8,361.3 L408.8,360.6 L409.8,359.8 L410.8,359.1 L411.8,358.3 L412.8,357.6 L413.8,356.8 L414.8,356.1 L415.6,355.5"/>
</g>
<g fill="none" stroke="#0f0" stroke-width="2.3" stroke-dasharray="7.7 3.9" clip-path="url(#cb)">
<path d="M130.5,459.9 L430.0,258.8" stroke-dashoffset="-4.2"/>
<path d="M116.5,459.8 L430.0,367.6" stroke-dashoffset="-4.25"/>
</g>
<g opacity="0.999">
<text transform="translate(82.69,33.80) scale(1.25,1)" font-size="19" font-style="italic">T</text>
<rect x="102.9" y="27.07" width="12.60" height="0.85" fill="#1a1a1a"/>
<rect x="102.9" y="31.37" width="12.60" height="0.85" fill="#1a1a1a"/>
<text transform="translate(121.28,33.80) scale(1.06,1)" font-size="18">18</text>
<text x="139.60" y="33.80" font-size="18">,</text>
<text transform="translate(149.08,33.80) scale(1.06,1)" font-size="18">15</text>
<text x="166.90" y="33.80" font-size="18">,</text>
<text transform="translate(176.38,33.80) scale(1.06,1)" font-size="18">13</text>
<text x="194.70" y="33.80" font-size="18">,</text>
<text transform="translate(204.38,33.80) scale(1.06,1)" font-size="18">11</text>
<text x="222.00" y="33.80" font-size="18">,</text>
<text transform="translate(231.38,33.80) scale(1.06,1)" font-size="18">10</text>
<text x="249.20" y="33.80" font-size="18">,</text>
<text transform="translate(259.24,33.80) scale(1.06,1)" font-size="18">9</text>
<text x="268.60" y="33.80" font-size="18">,</text>
<text transform="translate(277.94,33.80) scale(1.06,1)" font-size="18">7</text>
<text transform="translate(83.88,72.70) scale(1.07,1)" font-size="19">(a)</text>
<text transform="translate(114.40,72.70) scale(1.04,1)" font-size="19">Annealed</text>
<text transform="translate(82.49,286.50) scale(1.25,1)" font-size="19" font-style="italic">T</text>
<rect x="102.8" y="279.77" width="12.40" height="0.85" fill="#1a1a1a"/>
<rect x="102.8" y="284.07" width="12.40" height="0.85" fill="#1a1a1a"/>
<text transform="translate(121.18,286.50) scale(1.06,1)" font-size="18">13</text>
<text x="139.50" y="286.50" font-size="18">,</text>
<text transform="translate(149.28,286.50) scale(1.06,1)" font-size="18">11</text>
<text x="166.90" y="286.50" font-size="18">,</text>
<text transform="translate(175.88,286.50) scale(1.06,1)" font-size="18">10</text>
<text x="194.00" y="286.50" font-size="18">,</text>
<text transform="translate(204.44,286.50) scale(1.06,1)" font-size="18">8</text>
<text x="213.80" y="286.50" font-size="18">,</text>
<text transform="translate(222.84,286.50) scale(1.06,1)" font-size="18">7</text>
<text transform="translate(83.25,319.30) scale(1.1,1)" font-size="19">(b)</text>
<text transform="translate(114.49,319.30) scale(1.053,1)" font-size="19">Quenched</text>
<text transform="translate(37.80,254.90) scale(1.1,1)" font-size="18">0</text>
<text transform="translate(37.80,466.10) scale(1.1,1)" font-size="18">0</text>
<text transform="translate(37.80,159.90) scale(1.1,1)" font-size="18">5</text>
<text transform="translate(37.80,385.33) scale(1.1,1)" font-size="18">5</text>
<text transform="translate(28.24,64.90) scale(1.08,1)" font-size="18">10</text>
<text transform="translate(28.24,304.56) scale(1.08,1)" font-size="18">10</text>
<text transform="translate(55.29,485.00) scale(1.11,1)" font-size="18">0</text>
<text transform="translate(122.29,485.00) scale(1.11,1)" font-size="18">0.2</text>
<text transform="translate(196.29,485.00) scale(1.11,1)" font-size="18">0.4</text>
<text transform="translate(270.89,485.00) scale(1.11,1)" font-size="18">0.6</text>
<text transform="translate(345.19,485.00) scale(1.11,1)" font-size="18">0.8</text>
<text transform="translate(427.40,485.00) scale(1.1,1)" font-size="18">1</text>
<text transform="translate(234.84,510.80) scale(1.1,1)" font-size="19" font-style="italic">Q</text>
<g transform="translate(15.0,149.8) rotate(-90)">
<text transform="translate(-1.16,0.00) scale(1.1,1)" font-size="19" font-style="italic">V</text>
<text x="11.60" y="2.60" font-size="13.5">a</text>
<text x="19.95" y="0.00" font-size="19">(</text>
<text x="27.55" y="0.00" font-size="19" font-style="italic">Q</text>
<text x="41.95" y="0.00" font-size="19">)</text>
</g>
<g transform="translate(14.4,379.8) rotate(-90)">
<text transform="translate(-1.16,0.00) scale(1.1,1)" font-size="19" font-style="italic">V</text>
<text x="11.60" y="2.60" font-size="13.5">q</text>
<text x="20.55" y="0.00" font-size="19">(</text>
<text x="27.55" y="0.00" font-size="19" font-style="italic">Q</text>
<text x="42.15" y="0.00" font-size="19">)</text>
</g>
</g>
</svg></body></html>
